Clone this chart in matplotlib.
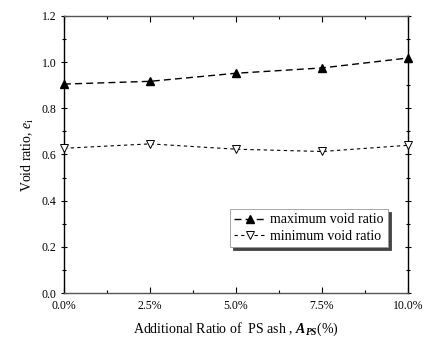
import matplotlib
matplotlib.use("Agg")
import matplotlib.pyplot as plt
from matplotlib.ticker import MultipleLocator, FixedLocator

plt.rcParams['font.family'] = ['Liberation Serif', 'DejaVu Serif']
plt.rcParams['mathtext.fontset'] = 'custom'
plt.rcParams['mathtext.rm'] = 'Liberation Serif'
plt.rcParams['mathtext.it'] = 'Liberation Serif:italic'
plt.rcParams['mathtext.bf'] = 'Liberation Serif:bold'
plt.rcParams['mathtext.bfit'] = 'Liberation Serif:bold:italic'

# data
ratio = [0.0, 2.5, 5.0, 7.5, 10.0]
ratio_labels = ['0.0%', '2.5%', '5.0%', '7.5%', '10.0%']
max_void = [0.905, 0.917, 0.952, 0.975, 1.018]
min_void = [0.627, 0.646, 0.623, 0.613, 0.640]

fig = plt.figure(figsize=(4.34, 3.38), dpi=100)
ax = fig.add_axes([64 / 434, 1 - 293 / 338, (408 - 64) / 434, (293 - 16) / 338])

ax.plot(ratio, max_void, color='black', linestyle=(0, (5, 3)), linewidth=1.0,
        marker='^', markersize=6, markerfacecolor='black', markeredgecolor='black',
        label='maximum void ratio', clip_on=False, zorder=3)
ax.plot(ratio, min_void, color='black', linestyle=(0, (3, 3)), linewidth=0.8,
        marker='v', markersize=6, markerfacecolor='white', markeredgecolor='black',
        markeredgewidth=0.7, label='minimum void ratio', clip_on=False, zorder=3)

ax.set_xlim(0, 10)
ax.set_ylim(0, 1.2)
ax.xaxis.set_major_locator(FixedLocator(ratio))
ax.set_xticklabels(ratio_labels)
ax.xaxis.set_minor_locator(MultipleLocator(1.25))
ax.yaxis.set_major_locator(MultipleLocator(0.2))
ax.yaxis.set_minor_locator(MultipleLocator(0.1))
ax.yaxis.set_major_formatter(plt.FuncFormatter(lambda v, p: f'{v:.1f}'))

ax.tick_params(axis='both', which='major', labelsize=8.5, length=4, width=0.8,
               top=True, right=True, direction='in')
ax.tick_params(axis='both', which='minor', length=2.5, width=0.8,
               top=True, right=True, direction='in')
ax.tick_params(axis='y', which='both', left=True, direction='inout')
ax.tick_params(axis='x', pad=5)

for s in ['top', 'bottom']:
    ax.spines[s].set_color('#555555')
    ax.spines[s].set_linewidth(1.0)
for s in ['left', 'right']:
    ax.spines[s].set_color('black')
    ax.spines[s].set_linewidth(1.0)

ax.set_xlabel(r'Additional Ratio of  PS ash , $\mathbfit{A}_{\mathbfit{PS}}$(%)', fontsize=10, labelpad=6)
ax.set_ylabel(r'Void ratio, $\mathit{e}_{\mathrm{i}}$', fontsize=10, labelpad=4)

leg = ax.legend(loc='lower right', bbox_to_anchor=(0.942, 0.166), fontsize=10,
                frameon=True, fancybox=False, shadow={'color': '#444444', 'alpha': 1.0},
                edgecolor='#999999', handlelength=2.2, handletextpad=0.4,
                borderpad=0.3, labelspacing=0.25, borderaxespad=0)
leg.get_frame().set_linewidth(0.6)

fig.savefig('out.png', dpi=100)
